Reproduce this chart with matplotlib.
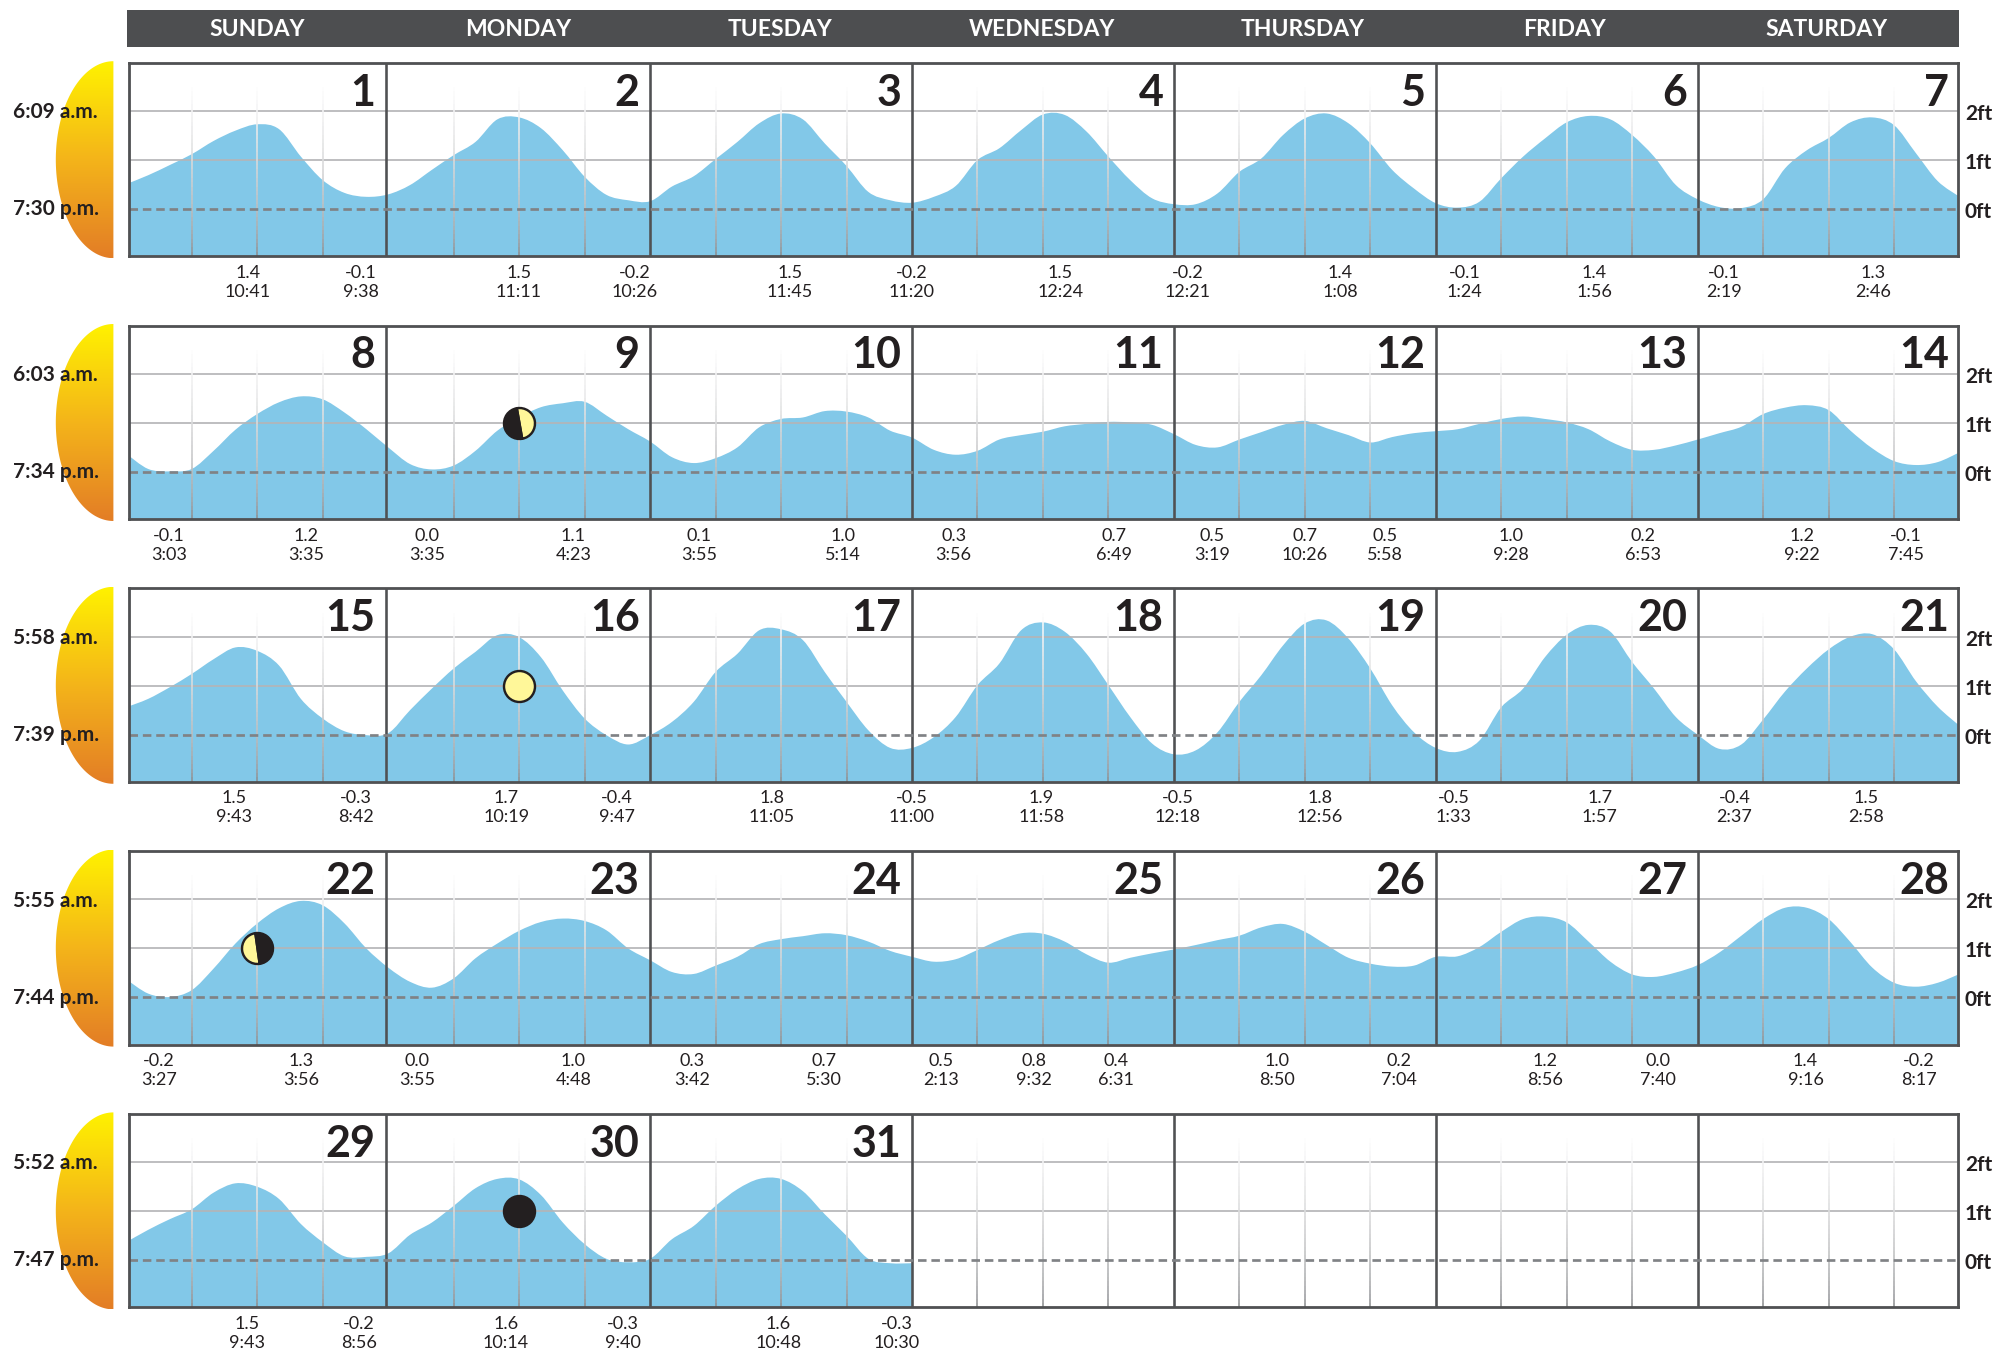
import numpy as np
import matplotlib
matplotlib.use("Agg")
import matplotlib.pyplot as plt
from matplotlib.path import Path
from matplotlib.patches import PathPatch, Rectangle
from matplotlib.markers import MarkerStyle
from matplotlib.colors import LinearSegmentedColormap, to_rgb
from matplotlib.transforms import Affine2D, ScaledTranslation

plt.rcParams['font.family'] = ['Lato', 'DejaVu Sans']

WEEKDAYS = ['SUNDAY', 'MONDAY', 'TUESDAY', 'WEDNESDAY', 'THURSDAY', 'FRIDAY', 'SATURDAY']
SUNRISE = ['6:09 a.m.', '6:03 a.m.', '5:58 a.m.', '5:55 a.m.', '5:52 a.m.']
SUNSET = ['7:30 p.m.', '7:34 p.m.', '7:39 p.m.', '7:44 p.m.', '7:47 p.m.']
FIRST_DAY = [1, 8, 15, 22, 29]

# tide height in feet, one value every two hours from Sunday 00:00
tide_week1 = [
    .51, .69, .90, 1.12, 1.39, 1.60, 1.73, 1.63, 1.07, .59, .33, .25,
    .30, .49, .80, 1.10, 1.37, 1.83, 1.87, 1.65, 1.20, .66, .29, .18,
    .16, .46, .67, 1.02, 1.37, 1.75, 1.95, 1.83, 1.34, .88, .35, .18,
    .13, .25, .47, 1.00, 1.24, 1.61, 1.93, 1.92, 1.58, 1.07, .59, .22,
    .10, .10, .32, .76, 1.03, 1.51, 1.85, 1.95, 1.75, 1.34, .80, .42,
    .12, .03, .15, .63, 1.07, 1.44, 1.77, 1.90, 1.83, 1.51, 1.07, .49,
    .20, .04, .02, .20, .83, 1.20, 1.45, 1.77, 1.87, 1.71, 1.14, .57, .25]
tide_week2 = [
    .37, .06, .01, .06, .43, .86, 1.18, 1.42, 1.54, 1.48, 1.21, .87,
    .50, .16, .05, .13, .43, .84, 1.11, 1.32, 1.40, 1.43, 1.15, .87,
    .62, .30, .18, .28, .50, .91, 1.08, 1.11, 1.24, 1.23, 1.11, .84,
    .70, .45, .35, .43, .66, .75, .82, .93, .98, 1.02, 1.01, .96,
    .77, .55, .50, .66, .81, .96, 1.04, .89, .75, .60, .71, .79,
    .83, .87, .98, 1.08, 1.13, 1.08, 1.01, .87, .62, .45, .45, .54,
    .66, .79, .92, 1.18, 1.31, 1.36, 1.26, .84, .48, .22, .14, .20, .40]
tide_week3 = [
    .56, .73, .97, 1.24, 1.54, 1.78, 1.71, 1.41, .73, .33, .07, -.01,
    .03, .50, .94, 1.35, 1.69, 2.03, 1.99, 1.58, .90, .33, -.01, -.20,
    -.01, .26, .67, 1.28, 1.65, 2.13, 2.15, 1.93, 1.28, .67, .09, -.27,
    -.27, -.05, .36, 1.01, 1.45, 2.13, 2.29, 2.10, 1.65, 1.01, .36, -.18,
    -.40, -.32, .05, .67, 1.21, 1.82, 2.27, 2.33, 1.96, 1.35, .60, .05,
    -.27, -.35, -.12, .56, .94, 1.58, 2.04, 2.24, 2.10, 1.48, .94, .36,
    .00, -.29, -.20, .31, .88, 1.35, 1.74, 2.00, 2.05, 1.74, 1.09, .57, .18]
tide_week4 = [
    .37, .08, .01, .15, .59, 1.10, 1.51, 1.82, 1.97, 1.88, 1.51, 1.00,
    .61, .32, .20, .39, .80, 1.10, 1.36, 1.54, 1.61, 1.56, 1.37, 1.00,
    .76, .52, .48, .65, .83, 1.09, 1.19, 1.25, 1.31, 1.27, 1.14, .95,
    .83, .73, .78, .97, 1.17, 1.31, 1.30, 1.14, .88, .71, .81, .90,
    .98, 1.07, 1.17, 1.26, 1.43, 1.50, 1.34, 1.07, .81, .69, .63, .65,
    .83, .84, 1.03, 1.34, 1.60, 1.65, 1.53, 1.14, .73, .47, .42, .51,
    .66, .92, 1.26, 1.60, 1.83, 1.83, 1.60, 1.13, .61, .30, .22, .30, .48]
tide_week5 = [
    .37, .62, .84, 1.04, 1.38, 1.57, 1.50, 1.25, .74, .37, .08, .07,
    .14, .52, .77, 1.11, 1.47, 1.66, 1.65, 1.33, .77, .33, .03, -.04,
    .03, .43, .70, 1.11, 1.45, 1.66, 1.66, 1.41, .94, .50, .03, -.06, -.06]
TIDES = [tide_week1, tide_week2, tide_week3, tide_week4, tide_week5]

# high/low annotations: hour of the week, height text, clock text
hours_week1 = [11.15, 21.52, 35.97, 46.57, 60.79, 71.97, 85.6, 97.25, 111.24, 122.66, 134.54, 146.42, 160.05]
heights_week1 = ['1.4', '-0.1', '1.5', '-0.2', '1.5', '-0.2', '1.5', '-0.2', '1.4', '-0.1', '1.4', '-0.1', '1.3']
times_week1 = ['10:41', '9:38', '11:11', '10:26', '11:45', '11:20', '12:24', '12:21', '1:08', '1:24', '1:56', '2:19', '2:46']
hours_week2 = [3.93, 16.51, 27.58, 40.98, 52.52, 65.68, 75.82, 90.5, 99.47, 107.98, 115.32, 126.85, 138.97, 153.53, 163.09]
heights_week2 = ['-0.1', '1.2', '0.0', '1.1', '0.1', '1.0', '0.3', '0.7', '0.5', '0.7', '0.5', '1.0', '0.2', '1.2', '-0.1']
times_week2 = ['3:03', '3:35', '3:35', '4:23', '3:55', '5:14', '3:56', '6:49', '3:19', '10:26', '5:58', '9:28', '6:53', '9:22', '7:45']
hours_week3 = [9.87, 21.06, 34.81, 44.94, 59.16, 71.97, 83.86, 96.32, 109.37, 121.61, 135.01, 147.36, 159.47]
heights_week3 = ['1.5', '-0.3', '1.7', '-0.4', '1.8', '-0.5', '1.9', '-0.5', '1.8', '-0.5', '1.7', '-0.4', '1.5']
times_week3 = ['9:43', '8:42', '10:19', '9:47', '11:05', '11:00', '11:58', '12:18', '12:56', '1:33', '1:57', '2:37', '2:58']
hours_week4 = [3.0, 16.05, 26.65, 40.98, 51.82, 63.93, 74.65, 83.16, 90.73, 105.41, 116.6, 130.0, 140.36, 153.88, 164.25]
heights_week4 = ['-0.2', '1.3', '0.0', '1.0', '0.3', '0.7', '0.5', '0.8', '0.4', '1.0', '0.2', '1.2', '0.0', '1.4', '-0.2']
times_week4 = ['3:27', '3:56', '3:55', '4:48', '3:42', '5:30', '2:13', '9:32', '6:31', '8:50', '7:04', '8:56', '7:40', '9:16', '8:17']
hours_week5 = [11.04, 21.29, 34.8, 45.5, 59.74, 70.57]
heights_week5 = ['1.5', '-0.2', '1.6', '-0.3', '1.6', '-0.3']
times_week5 = ['9:43', '8:56', '10:14', '9:40', '10:48', '10:30']
ANN_HOURS = [hours_week1, hours_week2, hours_week3, hours_week4, hours_week5]
ANN_HEIGHTS = [heights_week1, heights_week2, heights_week3, heights_week4, heights_week5]
ANN_TIMES = [times_week1, times_week2, times_week3, times_week4, times_week5]

# moon phases: (week index, hour of week, phase, tilt)
MOONS = [(1, 36, 'first', 10), (2, 36, 'full', 0), (3, 12, 'last', 8), (4, 36, 'new', 0)]

DARK = '#231f20'
FRAME = '#505153'
WATER = '#82c8e8'
GRID = '#b4b5b7'
DASH = '#808285'
MOON_Y = '#fff799'

W, H = 1995, 1350
fig = plt.figure(figsize=(W / 100, H / 100), dpi=100, facecolor='white')
px = 0.72  # points per pixel at this dpi

# page layer in pixel units: header bar and sun shapes
page = fig.add_axes([0, 0, 1, 1], zorder=0)
page.set_xlim(0, W)
page.set_ylim(H, 0)
page.axis('off')

page.add_patch(Rectangle((127, 10), 1832, 37, fc='#4d4e50', ec='none'))
X0, XDAY = 126.3, 261.9
for i, name in enumerate(WEEKDAYS):
    page.text(257 + 261.5 * i, 30, name, color='white', fontsize=16.5, fontweight='bold',
              ha='center', va='center')

ROW_TOP = 62.7
ROW_STEP = 262.8
ROW_H = 193.4
P_L, P_R = 128.5, 1958.0
sun_cmap = LinearSegmentedColormap.from_list('sun', ['#fff200', '#f4b41a', '#e37d26'])
grad = np.linspace(0, 1, 256)[:, None]
for r in range(5):
    top = ROW_TOP + ROW_STEP * r
    t = np.linspace(-np.pi / 2, np.pi / 2, 80)
    cy = top + 97
    verts = np.column_stack([113.4 - 57.6 * np.cos(t), cy + 98.5 * np.sin(t)])
    verts = np.vstack([verts, verts[0]])
    clip = PathPatch(Path(verts), transform=page.transData, fc='none', ec='none')
    page.add_patch(clip)
    im = page.imshow(grad, cmap=sun_cmap, extent=[55, 114, cy + 98.5, cy - 98.5], aspect='auto', zorder=1)
    im.set_clip_path(clip)
    page.text(13, top + 49.5, SUNRISE[r], color=DARK, fontsize=15, fontweight='bold', ha='left', va='center', zorder=3)
    page.text(13, top + 146.5, SUNSET[r], color=DARK, fontsize=15, fontweight='bold', ha='left', va='center', zorder=3)
page.set_xlim(0, W)
page.set_ylim(H, 0)

# hours-of-week axis: 0 h sits at X0 and each day spans XDAY pixels
xlim = ((P_L - X0) / XDAY * 24, (P_R - X0) / XDAY * 24)
DIVIDERS = [23.78, 48, 72, 96, 120, 144]
NUM_RIGHT = [23.78 - 0.95] + [24 * k - 0.95 for k in range(2, 8)]


def smooth_area(x, y, base):
    x, y = np.asarray(x, float), np.asarray(y, float)
    n = len(x)
    verts = [(x[0], base), (x[0], y[0])]
    codes = [Path.MOVETO, Path.LINETO]
    for i in range(n - 1):
        a, d = max(i - 1, 0), min(i + 2, n - 1)
        c1 = (x[i] + (x[i + 1] - x[a]) / 6, y[i] + (y[i + 1] - y[a]) / 6)
        c2 = (x[i + 1] - (x[d] - x[i]) / 6, y[i + 1] - (y[d] - y[i]) / 6)
        verts += [c1, c2, (x[i + 1], y[i + 1])]
        codes += [Path.CURVE4] * 3
    verts += [(x[-1], base), (x[0], base)]
    codes += [Path.LINETO, Path.CLOSEPOLY]
    return Path(verts, codes)


white = np.array(to_rgb('white'))
grey = np.array(to_rgb(DASH))
for r in range(5):
    top = ROW_TOP + ROW_STEP * r
    ax = fig.add_axes([P_L / W, 1 - (top + ROW_H) / H, (P_R - P_L) / W, ROW_H / H], zorder=2)
    ax.set_xlim(*xlim)
    ax.set_ylim(-0.959, 2.986)
    ax.patch.set_alpha(0)
    ax.set_xticks([])
    ax.yaxis.tick_right()
    ax.set_yticks([0, 1, 2])
    ax.set_yticklabels(['0ft', '1ft', '2ft'], fontsize=15, fontweight='bold', color=DARK)
    ax.tick_params(axis='y', length=0, pad=5)
    off = ScaledTranslation(0, -1 / 100, fig.dpi_scale_trans)
    for lb in ax.get_yticklabels():
        lb.set_transform(lb.get_transform() + off)
    for s in ax.spines.values():
        s.set_linewidth(2.8 * px)
        s.set_color(FRAME)
        s.set_zorder(6)

    tide = TIDES[r]
    hrs = np.arange(len(tide)) * 2
    ax.add_patch(PathPatch(smooth_area(hrs, tide, -0.959), fc=WATER, ec='none', zorder=1))

    ax.hlines([1, 2], *xlim, colors=GRID, linewidth=1.7 * px, zorder=2)

    # vertical hour lines fading upward
    yb = np.linspace(-0.959, 2.986 - 20 / 49, 41)
    mix = ((yb[1:] - yb[0]) / (yb[-1] - yb[0])) ** 0.6
    cols = [tuple(grey + (white - grey) * m) for m in mix]
    for day in range(7):
        for q in (6, 12, 18):
            hx = np.full(len(cols), day * 24 + q)
            ax.vlines(hx, yb[:-1], yb[1:], colors=cols, linewidth=1.6 * px, zorder=3,
                      capstyle='butt')

    ax.vlines(DIVIDERS, -0.959, 2.986, colors=FRAME, linewidth=2.6 * px, zorder=4)
    ax.plot(xlim, [0, 0], color=DASH, linewidth=2.7 * px, zorder=5,
            dashes=(3.15, 1.8), dash_capstyle='butt')

    # day numbers
    for i in range(7):
        d = FIRST_DAY[r] + i
        if d > 31:
            break
        ax.text(NUM_RIGHT[i], 2.11, str(d), fontsize=31, fontweight='bold', color=DARK, ha='right',
                va='baseline', zorder=7)

    # high / low labels below the panel
    tr = ax.get_xaxis_transform()
    for h, v, t in zip(ANN_HOURS[r], ANN_HEIGHTS[r], ANN_TIMES[r]):
        ax.text(h, -16.7 / ROW_H, v, transform=tr, fontsize=13, color=DARK, ha='center', va='center', clip_on=False)
        ax.text(h, -35.7 / ROW_H, t, transform=tr, fontsize=13, color=DARK, ha='center', va='center', clip_on=False)

    # moons
    for wk, hr, phase, tilt in MOONS:
        if wk != r:
            continue
        ms = 31 * px
        kw = dict(linestyle='none', markersize=ms, markeredgecolor=DARK, markeredgewidth=2.4 * px, zorder=8)
        if phase == 'full':
            ax.plot([hr], [1], marker='o', markerfacecolor=MOON_Y, **kw)
        elif phase == 'new':
            ax.plot([hr], [1], marker='o', markerfacecolor=DARK, **kw)
        else:
            side = 'right' if phase == 'first' else 'left'
            m = MarkerStyle('o', fillstyle=side, transform=Affine2D().rotate_deg(tilt))
            ax.plot([hr], [1], marker=m, markerfacecolor=MOON_Y, markerfacecoloralt=DARK, **kw)

fig.savefig('out.png', dpi=100)
